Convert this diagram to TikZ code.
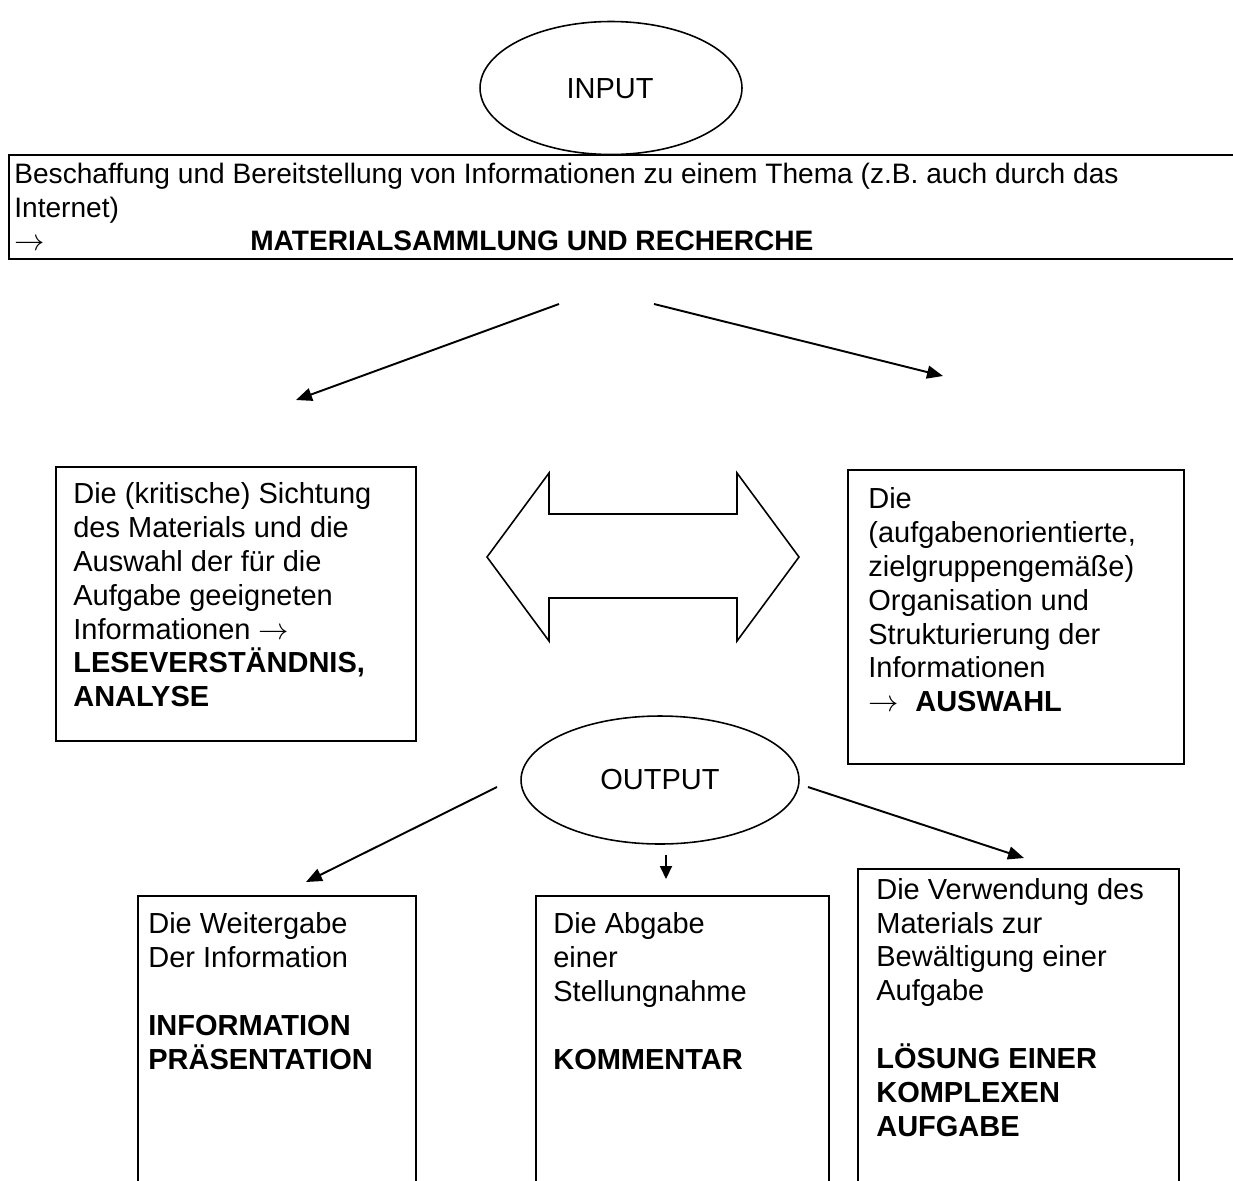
\documentclass[tikz,border=0pt]{standalone}
\usepackage{fontspec}
\setmainfont{Liberation Sans}
\usetikzlibrary{shapes.geometric,arrows.meta}
\begin{document}
\begin{tikzpicture}[x=0.02cm,y=-0.02cm,
  frame/.style={draw,line width=1.1pt,rectangle,anchor=north west,inner sep=0},
  oval/.style={draw,line width=0.9pt,ellipse,inner sep=0},
  txt/.style={anchor=north west,inner sep=0,align=left,font=\fontsize{16.5}{19.3}\selectfont},
  lbl/.style={anchor=base,inner sep=0,font=\fontsize{16.5}{19.3}\selectfont},
  flow/.style={line width=1.1pt,-{Triangle[length=0.32cm,width=0.26cm]}}]
\useasboundingbox (0,0) rectangle (1233,1180);
\clip (0,0) rectangle (1233,1180);
\fill[white] (0,0) rectangle (1233,1180);

% INPUT
\node[oval,minimum width=5.24cm,minimum height=2.66cm] (input) at (611,88) {};
\node[lbl] (inputtxt) at (610,98) {INPUT};

% top box (open to the right)
\node[frame,minimum width=25.2cm,minimum height=2.08cm] (topbox) at (8,154) {};
\node[txt,font=\fontsize{16}{19.1}\selectfont] (toptxt) at (14,160) {\strut Beschaffung und Bereitstellung von Informationen zu einem Thema (z.B. auch durch das\\
Internet)\\
\makebox[4.72cm][l]{$\rightarrow$}\textbf{MATERIALSAMMLUNG UND RECHERCHE}};

% arrows from top box
\coordinate (a1s) at (559,304);
\coordinate (a1e) at (296,400);
\coordinate (a2s) at (654,304);
\coordinate (a2e) at (943,376);
\draw[flow] (a1s) -- (a1e);
\draw[flow] (a2s) -- (a2e);

% left middle box
\node[frame,minimum width=7.2cm,minimum height=5.48cm] (leftbox) at (55,466) {};
\node[txt] (lefttxt) at (73,479.3) {\strut Die (kritische) Sichtung\\
des Materials und die\\
Auswahl der für die\\
Aufgabe geeigneten\\
Informationen $\rightarrow$\\
\textbf{LESEVERSTÄNDNIS,}\\
\textbf{ANALYSE}};

% right middle box
\node[frame,minimum width=6.72cm,minimum height=5.88cm] (rightbox) at (847,469) {};
\node[txt] (righttxt) at (868,484.3) {\strut Die\\
(aufgabenorientierte,\\
zielgruppengemäße)\\
Organisation und\\
Strukturierung der\\
Informationen\\
\makebox[0.94cm][l]{$\rightarrow$}\textbf{AUSWAHL}};

% double arrow
\path[draw,line width=0.9pt,line join=miter] (487,557) -- (549,473) -- (549,514) -- (737,514) -- (737,473)
  -- (799,557) -- (737,641) -- (737,598) -- (549,598) -- (549,641) -- cycle;

% OUTPUT
\node[oval,minimum width=5.56cm,minimum height=2.56cm] (output) at (660,780) {};
\node[lbl] (outputtxt) at (660,789) {OUTPUT};

\coordinate (b1s) at (497,787);
\coordinate (b1e) at (306,882);
\coordinate (b2s) at (808,787);
\coordinate (b2e) at (1024,858);
\coordinate (b3s) at (666,855);
\coordinate (b3e) at (666,879);
\draw[flow] (b1s) -- (b1e);
\draw[flow] (b2s) -- (b2e);
\draw[line width=1.1pt,-{Triangle[length=0.26cm,width=0.24cm]}] (b3s) -- (b3e);

% bottom boxes (open at the bottom)
\node[frame,minimum width=5.56cm,minimum height=6.2cm] (box1) at (137,895) {};
\node[frame,minimum width=5.86cm,minimum height=6.2cm] (box2) at (535,895) {};
\node[frame,minimum width=6.42cm,minimum height=6.8cm] (box3) at (857,868) {};

\node[txt] (box1txt) at (148,909.3) {\strut Die Weitergabe\\
Der Information\\
\mbox{}\\
\textbf{INFORMATION}\\
\textbf{PRÄSENTATION}};
\node[txt] (box2txt) at (553,909.3) {\strut Die Abgabe\\
einer\\
Stellungnahme\\
\mbox{}\\
\textbf{KOMMENTAR}};
\node[txt] (box3txt) at (876,875) {\strut Die Verwendung des\\
Materials zur\\
Bewältigung einer\\
Aufgabe\\
\mbox{}\\
\textbf{LÖSUNG EINER}\\
\textbf{KOMPLEXEN}\\
\textbf{AUFGABE}};
\end{tikzpicture}
\end{document}
